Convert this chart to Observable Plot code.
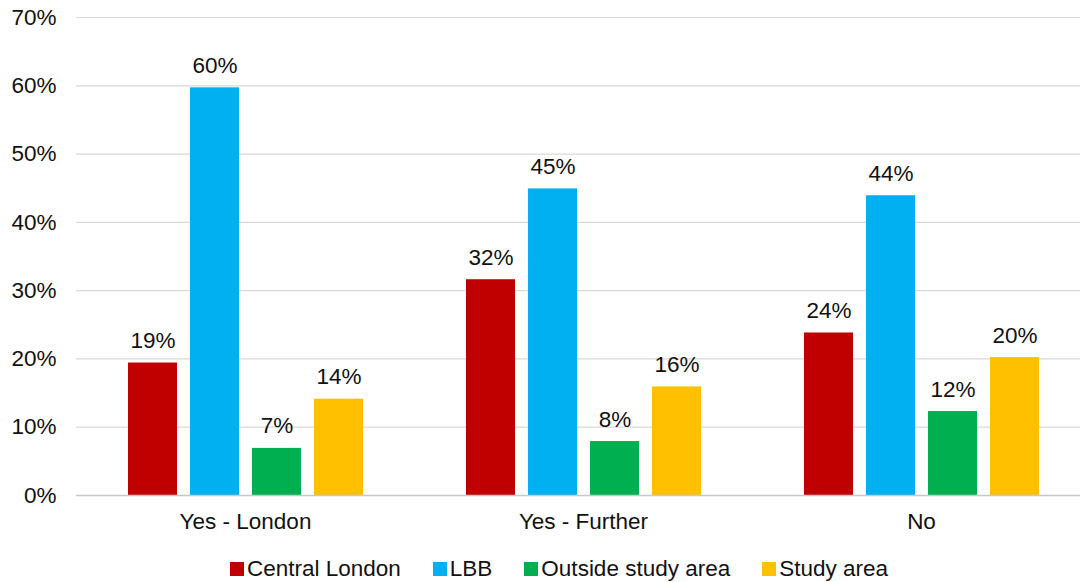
<!DOCTYPE html>
<html><head><meta charset="utf-8">
<script src="https://cdn.jsdelivr.net/npm/d3@7"></script>
<script src="https://cdn.jsdelivr.net/npm/@observablehq/plot@0.6"></script>
<style>
body{margin:0;background:#fff;font-family:"Liberation Sans",Arial,sans-serif;}
#legend{position:absolute;top:556px;left:0;width:1080px;display:flex;justify-content:center;font-size:22.5px;color:#111;padding-left:38px;box-sizing:border-box}
#legend span.item{display:flex;align-items:center;margin:0 16px}
#legend span.sw{display:inline-block;width:14px;height:14px;margin-right:3px}
</style></head>
<body><div id="chart"></div><div id="legend"></div>
<script>
const groups = ["Yes - London", "Yes - Further", "No"];
const series = ["Central London", "LBB", "Outside study area", "Study area"];
const colors = ["#C00000", "#00B0F0", "#00B050", "#FFC000"];
const valuesYesLondon = [19.4, 59.7, 6.9, 14.1];
const valuesYesFurther = [31.6, 44.9, 7.9, 15.9];
const valuesNo = [23.8, 43.9, 12.3, 20.2];
const labelsYesLondon = ["19%", "60%", "7%", "14%"];
const labelsYesFurther = ["32%", "45%", "8%", "16%"];
const labelsNo = ["24%", "44%", "12%", "20%"];
const yTicks = [0, 10, 20, 30, 40, 50, 60, 70];

const allVals = [valuesYesLondon, valuesYesFurther, valuesNo];
const allLabels = [labelsYesLondon, labelsYesFurther, labelsNo];
const data = [];
groups.forEach((g, gi) => series.forEach((s, si) => data.push({group: g, series: s, value: allVals[gi][si], label: allLabels[gi][si]})));

const chart = Plot.plot({
  width: 1080, height: 545,
  marginLeft: 76, marginRight: 2, marginTop: 17, marginBottom: 50,
  style: {fontFamily: "Liberation Sans, Arial, sans-serif", fontSize: "22.5px", color: "#111", overflow: "visible"},
  fx: {domain: groups, padding: 0, label: null, axis: "bottom", tickSize: 0, tickPadding: 18, range: [76, 1090]},
  x: {domain: series, axis: null, paddingInner: 0.21, paddingOuter: 0.83},
  y: {domain: [0, 70], ticks: yTicks, tickFormat: d => d + "%", label: null, tickSize: 0, tickPadding: 20},
  color: {domain: series, range: colors},
  marks: [
    Plot.gridY(yTicks, {stroke: "#d9d9d9", strokeOpacity: 1, strokeWidth: 1.2}),
    Plot.barY(data, {fx: "group", x: "series", y: "value", fill: "series"}),
    Plot.ruleY([0], {stroke: "#c8c8c8", strokeWidth: 1.5}),
    Plot.text(data, {fx: "group", x: "series", y: "value", text: "label", lineAnchor: "bottom", dy: -15, fontSize: 22.5, fill: "#111"})
  ]
});
document.getElementById("chart").appendChild(chart);

const leg = document.getElementById("legend");
series.forEach((s, i) => {
  const it = document.createElement("span"); it.className = "item";
  const sw = document.createElement("span"); sw.className = "sw"; sw.style.background = colors[i];
  it.appendChild(sw); it.appendChild(document.createTextNode(s));
  leg.appendChild(it);
});
</script></body></html>
